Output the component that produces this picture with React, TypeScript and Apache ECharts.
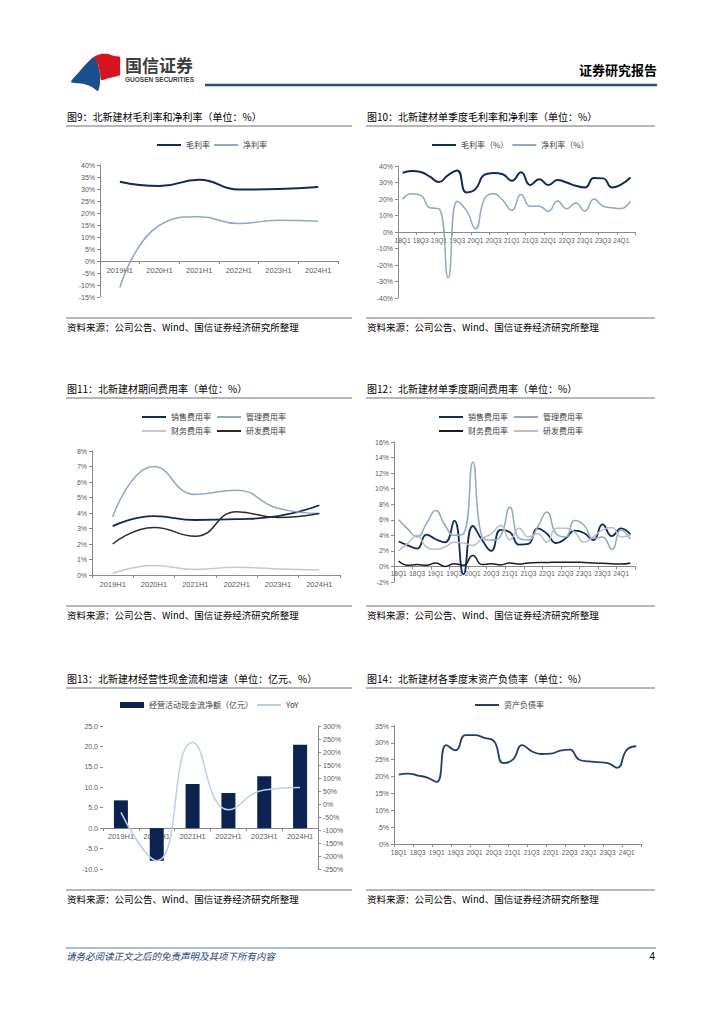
import React, { useEffect, useRef } from "react";
import * as echarts from "echarts";

// ---------- data ----------
const halfYears = ["2019H1", "2020H1", "2021H1", "2022H1", "2023H1", "2024H1"];
const quarters = [
  "18Q1", "18Q2", "18Q3", "18Q4", "19Q1", "19Q2", "19Q3", "19Q4",
  "20Q1", "20Q2", "20Q3", "20Q4", "21Q1", "21Q2", "21Q3", "21Q4",
  "22Q1", "22Q2", "22Q3", "22Q4", "23Q1", "23Q2", "23Q3", "23Q4",
  "24Q1", "24Q2",
];

// Fig 9
const gross9 = [33.0, 31.2, 33.9, 29.8, 30.0, 30.8];
const net9 = [-11.1, 14.9, 18.4, 15.6, 17.0, 16.6];

// Fig 10
const gross10 = [35.8, 37.0, 36.4, 33.5, 30.3, 34.5, 37.3, 24.0, 26.0, 34.8, 35.8, 35.0, 31.0, 36.2, 28.5, 32.0, 28.5, 31.5, 30.0, 28.0, 27.0, 32.7, 32.5, 27.0, 28.8, 33.0];
const net10 = [19.8, 23.2, 22.2, 14.7, 14.1, -27.9, 18.6, 13.1, 2.0, 20.2, 23.2, 19.2, 13.1, 22.8, 15.6, 15.6, 12.5, 18.8, 14.1, 17.6, 12.7, 20.0, 15.6, 14.7, 14.3, 18.8];

// Fig 11
const sales11 = [3.15, 3.8, 3.55, 3.6, 3.8, 4.5];
const admin11 = [3.75, 7.0, 5.2, 5.47, 4.3, 3.97];
const fin11 = [0.1, 0.62, 0.36, 0.5, 0.38, 0.32];
const rd11 = [2.0, 3.07, 2.5, 4.08, 3.71, 3.97];

// Fig 12
const sales12 = [3.2, 2.7, 2.3, 4.1, 3.5, 3.1, 5.9, -1.0, 5.2, 3.4, 2.0, 4.7, 4.4, 2.8, 2.9, 4.9, 4.2, 3.0, 3.6, 4.6, 4.3, 3.4, 5.4, 3.9, 4.9, 4.1];
const admin12 = [6.0, 4.8, 3.8, 5.5, 7.2, 5.3, 4.0, 4.2, 13.4, 3.8, 3.4, 3.9, 7.6, 3.6, 3.4, 5.1, 7.0, 4.2, 3.8, 5.9, 5.3, 3.6, 3.8, 2.2, 4.7, 3.5];
const fin12 = [0.7, 0.15, 0.25, 0.15, 0.45, 0.0, 0.35, 0.15, 1.4, 0.25, 0.35, 0.2, 0.45, 0.3, 0.45, 0.5, 0.5, 0.55, 0.55, 0.55, 0.5, 0.45, 0.4, 0.35, 0.3, 0.45];
const rd12 = [2.0, 3.0, 4.0, 2.5, 2.2, 2.5, 3.1, 3.0, 2.7, 3.6, 4.2, 5.3, 3.4, 4.9, 3.8, 4.2, 3.1, 4.9, 4.9, 4.4, 3.1, 3.8, 4.7, 5.0, 3.8, 4.0];

// Fig 13
const cash13 = [6.8, -8.0, 10.8, 8.6, 12.7, 20.4];
const yoy13 = [-32, -218, 237, -22, 54, 63];

// Fig 14
const debt14 = [20.6, 20.9, 20.3, 19.7, 18.4, 29.3, 27.8, 32.3, 32.3, 31.5, 30.6, 24.0, 25.0, 29.3, 27.5, 26.7, 26.8, 27.7, 28.0, 25.0, 24.5, 24.3, 24.0, 22.6, 27.9, 29.0];

// ---------- texts ----------
const titles = [
  "图9：北新建材毛利率和净利率（单位：%）",
  "图10：北新建材单季度毛利率和净利率（单位：%）",
  "图11：北新建材期间费用率（单位：%）",
  "图12：北新建材单季度期间费用率（单位：%）",
  "图13：北新建材经营性现金流和增速（单位：亿元、%）",
  "图14：北新建材各季度末资产负债率（单位：%）",
];
const sourceText = "资料来源：公司公告、Wind、国信证券经济研究所整理";

// ---------- styles ----------
const FONT_CN = '"Noto Sans CJK SC", "Noto Sans", sans-serif';
const FONT_NUM = '"Liberation Sans", Arial, "Noto Sans CJK SC", sans-serif';
const AXIS_COLOR = "#8a8a8a";
const LABEL_COLOR = "#595959";
const NAVY = "#0c2a5b";
const LIGHT = "#8ea8c8";

const pct = (v: number) => `${v}%`;

// grids: plot areas
const grids = [
  { left: 100, top: 165, width: 238, height: 132 },
  { left: 398, top: 166, width: 237, height: 132 },
  { left: 92, top: 451, width: 248, height: 124 },
  { left: 394, top: 442, width: 241, height: 140 },
  { left: 103, top: 726, width: 215, height: 143 },
  { left: 394, top: 726, width: 247, height: 118 },
];
// y ranges [min, max, interval] for the axis that carries the category axis
const yRanges: [number, number, number][] = [
  [-15, 40, 5],
  [-40, 40, 10],
  [0, 8, 1],
  [-2, 16, 2],
  [-10, 25, 5],
  [0, 35, 5],
];

// lift the category axis (line + labels) up to the value-0 level of its grid
function zeroOffset(g: number) {
  const [min, max] = yRanges[g];
  if (min >= 0) return 0;
  return -grids[g].height * (0 - min) / (max - min);
}

function xCat(gridIndex: number, data: string[], fontSize: number, interval: number | "auto", margin: number) {
  return {
    type: "category",
    gridIndex,
    data,
    boundaryGap: true,
    position: "bottom",
    offset: zeroOffset(gridIndex),
    axisLine: { show: true, onZero: false, lineStyle: { color: AXIS_COLOR, width: 1 } },
    axisTick: { show: true, length: 3, lineStyle: { color: AXIS_COLOR } },
    axisLabel: { show: true, interval, fontSize, color: LABEL_COLOR, fontFamily: FONT_NUM, margin },
    splitLine: { show: false },
  };
}

function yVal(gridIndex: number, range: [number, number, number], formatter: any, extra: any = {}) {
  return {
    type: "value",
    gridIndex,
    min: range[0],
    max: range[1],
    interval: range[2],
    axisLine: { show: true, lineStyle: { color: AXIS_COLOR, width: 1 } },
    axisTick: { show: true, length: 3, lineStyle: { color: AXIS_COLOR } },
    axisLabel: { formatter, fontSize: 7, color: LABEL_COLOR, fontFamily: FONT_NUM, margin: 5 },
    splitLine: { show: false },
    ...extra,
  };
}

function lineS(name: string, data: number[], xi: number, yi: number, color: string, width: number) {
  return {
    type: "line",
    name,
    data,
    xAxisIndex: xi,
    yAxisIndex: yi,
    smooth: true,
    symbol: "none",
    lineStyle: { color, width },
    itemStyle: { color },
    z: 3,
  };
}

function legend(data: string[], left: number, top: number, extra: any = {}) {
  return {
    data,
    left,
    top,
    orient: "horizontal",
    icon: "rect",
    itemWidth: 24,
    itemHeight: 2,
    itemGap: 6,
    padding: 0,
    selectedMode: false,
    textStyle: { fontSize: 8, color: "#404040", fontFamily: FONT_CN },
    formatter: (n: string) => n.split("#")[0],
    ...extra,
  };
}

function txt(text: string, x: number, y: number, fontSize: number, extra: any = {}) {
  return {
    type: "text",
    silent: true,
    z: 10,
    style: {
      text,
      x,
      y,
      fontSize,
      fontFamily: FONT_CN,
      fill: "#000",
      textAlign: "left",
      textVerticalAlign: "middle",
      ...extra,
    },
  };
}

function hline(x1: number, x2: number, y: number, stroke: string, lineWidth: number) {
  return {
    type: "line",
    silent: true,
    z: 10,
    shape: { x1, y1: y, x2, y2: y },
    style: { stroke, lineWidth },
  };
}

function buildOption() {
  const colLeft = [66, 366];
  const colRight = [352, 655];
  const titleY = [116, 388, 678];
  const sourceY = [327, 615, 899];

  const graphics: any[] = [];
  // header logo
  graphics.push({
    type: "polygon",
    silent: true,
    shape: {
      points: [[71, 82], [79, 72], [87, 63], [94, 57], [98, 64], [100, 74], [100, 83], [98, 91], [92, 87], [84, 84]],
      smooth: 0.2,
    },
    style: { fill: "#1d4f8e" },
  });
  graphics.push({
    type: "polygon",
    silent: true,
    shape: {
      points: [[94, 57], [101, 54], [108, 54], [114, 56], [120, 57], [120, 67], [120, 75], [113, 77], [106, 79], [101, 80], [100, 73], [98, 64]],
      smooth: 0.2,
    },
    style: { fill: "#d7141d" },
  });
  graphics.push(txt("国信证券", 125, 64, 17, { fill: "#3d3d3d", fontWeight: "bold" }));
  graphics.push(txt("GUOSEN SECURITIES", 125, 79, 6.5, { fill: "#3d3d3d", fontWeight: "bold", fontFamily: FONT_NUM }));
  graphics.push(txt("证券研究报告", 657, 69, 13, { textAlign: "right", fontWeight: "bold" }));
  graphics.push(hline(205, 657, 85, "#1f4e8c", 2.5));

  // titles and sources
  for (let r = 0; r < 3; r++) {
    for (let c = 0; c < 2; c++) {
      graphics.push(txt(titles[r * 2 + c], colLeft[c] + 1, titleY[r], 10));
      graphics.push(hline(colLeft[c], colRight[c], titleY[r] + 10, "#6e6e6e", 1));
      graphics.push(hline(colLeft[c], colRight[c], sourceY[r] - 9, "#6e6e6e", 1));
      graphics.push(txt(sourceText, colLeft[c] + 1, sourceY[r], 9.5));
    }
  }

  // footer
  graphics.push(hline(66, 656, 948, "#4f79b5", 1));
  graphics.push(txt("请务必阅读正文之后的免责声明及其项下所有内容", 66, 956, 9.5, { fill: "#1f3f7f", fontStyle: "italic" }));
  graphics.push(txt("4", 655, 956, 10, { textAlign: "right", fontFamily: FONT_NUM }));

  return {
    animation: false,
    backgroundColor: "#ffffff",
    grid: grids,
    xAxis: [
      xCat(0, halfYears, 7.5, 0, 6),
      xCat(1, quarters, 6.5, 1, 5),
      xCat(2, halfYears, 7.5, 0, 6),
      xCat(3, quarters, 6.5, 1, 4),
      xCat(4, halfYears, 7.5, 0, 5),
      xCat(5, quarters, 6.5, 1, 5),
    ],
    yAxis: [
      yVal(0, yRanges[0], pct),
      yVal(1, yRanges[1], pct),
      yVal(2, yRanges[2], pct),
      yVal(3, yRanges[3], pct),
      yVal(4, yRanges[4], (v: number) => v.toFixed(1), { axisLine: { show: false } }),
      yVal(4, [-250, 300, 50], pct, { position: "right" }),
      yVal(5, yRanges[5], pct),
    ],
    legend: [
      legend(["毛利率", "净利率"], 157, 141, { itemGap: 4 }),
      legend(["毛利率（%）", "净利率（%）"], 432, 141, { itemGap: 4 }),
      legend(["销售费用率", "管理费用率"], 142, 413),
      legend(["财务费用率", "研发费用率"], 142, 427),
      legend(["销售费用率#q", "管理费用率#q"], 439, 413),
      legend(["财务费用率#q", "研发费用率#q"], 439, 427),
      legend(["经营活动现金流净额（亿元）"], 120, 701, { itemHeight: 6 }),
      legend(["YoY"], 257, 701),
      legend(["资产负债率"], 475, 701),
    ],
    series: [
      lineS("毛利率", gross9, 0, 0, NAVY, 2),
      lineS("净利率", net9, 0, 0, LIGHT, 1.5),
      lineS("毛利率（%）", gross10, 1, 1, NAVY, 2),
      lineS("净利率（%）", net10, 1, 1, LIGHT, 1.5),
      lineS("销售费用率", sales11, 2, 2, NAVY, 1.8),
      lineS("管理费用率", admin11, 2, 2, LIGHT, 1.5),
      lineS("财务费用率", fin11, 2, 2, "#c8c8c8", 1.5),
      lineS("研发费用率", rd11, 2, 2, "#2b2b2b", 1.5),
      lineS("销售费用率#q", sales12, 3, 3, NAVY, 1.8),
      lineS("管理费用率#q", admin12, 3, 3, LIGHT, 1.5),
      lineS("财务费用率#q", fin12, 3, 3, "#1c1c1c", 1.5),
      lineS("研发费用率#q", rd12, 3, 3, "#bdbdbd", 1.5),
      {
        type: "bar",
        name: "经营活动现金流净额（亿元）",
        data: cash13,
        xAxisIndex: 4,
        yAxisIndex: 4,
        barWidth: 14,
        itemStyle: { color: "#0b2350" },
        z: 2,
      },
      lineS("YoY", yoy13, 4, 5, "#b6d0ec", 1.5),
      lineS("资产负债率", debt14, 5, 6, "#1f3f6e", 1.8),
    ],
    graphic: { elements: graphics },
  };
}

export default function App() {
  const ref = useRef<HTMLDivElement>(null);
  useEffect(() => {
    if (!ref.current) return;
    const chart = echarts.init(ref.current, null, { renderer: "svg", width: 724, height: 1024 });
    chart.setOption(buildOption() as any);
    return () => chart.dispose();
  }, []);
  return (
    <div
      ref={ref}
      style={{ position: "absolute", left: 0, top: 0, width: 724, height: 1024, background: "#fff" }}
    />
  );
}
